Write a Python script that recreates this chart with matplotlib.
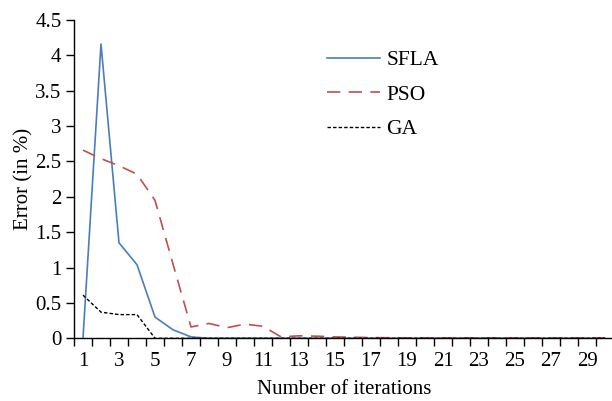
import numpy as np
import matplotlib.pyplot as plt

plt.rcParams['font.family'] = ['Liberation Serif', 'DejaVu Serif']

iterations = np.arange(1, 31)
sfla = [0.0, 4.16, 1.35, 1.04, 0.30, 0.12, 0.02] + [0.0] * 23
pso = [2.66, 2.54, 2.44, 2.32, 1.95, 1.05, 0.16, 0.21, 0.15, 0.20, 0.17, 0.02,
       0.035, 0.03, 0.02, 0.015, 0.01, 0.008, 0.006, 0.005] + [0.004] * 10
ga = [0.61, 0.37, 0.335, 0.335, 0.0] + [0.0] * 25

fig = plt.figure(figsize=(6.12, 4.01), dpi=100)
ax = fig.add_axes([74 / 612, 1 - 338.3 / 401, 540 / 612, 318.3 / 401])

ax.plot(iterations, sfla, color='#4a7ebb', lw=1.2, label='SFLA')
ax.plot(iterations, pso, color='#c0504d', lw=1.2, dashes=(8, 5), label='PSO')
ax.plot(iterations, ga, color='black', lw=1.0, dashes=(2.5, 1.5), label='GA')

ax.set_xlim(0.5, 30.5)
ax.set_ylim(0, 4.5)
ax.set_yticks(np.arange(0, 4.6, 0.5))
ax.set_yticklabels(['0', '0.5', '1', '1.5', '2', '2.5', '3', '3.5', '4', '4.5'])
# tick marks sit between categories, labels on every other category
ax.set_xticks(np.arange(0.5, 31, 1))
ax.set_xticklabels([])
ax.set_xticks(np.arange(1, 30, 2), minor=True)
ax.set_xticklabels([str(i) for i in range(1, 30, 2)], minor=True)
ax.tick_params(axis='x', which='minor', length=0, pad=10, labelsize=15)
ax.tick_params(axis='x', which='major', length=6, width=1, direction='out')
ax.tick_params(axis='y', length=6, width=1, direction='out', labelsize=15, pad=3)

for s in ['top', 'right']:
    ax.spines[s].set_visible(False)
for s in ['left', 'bottom']:
    ax.spines[s].set_linewidth(1)

ax.set_xlabel('Number of iterations', fontsize=15, labelpad=6)
ax.set_ylabel('Error (in %)', fontsize=15, labelpad=1.5)

ax.legend(loc='upper left', bbox_to_anchor=(327 / 612, 1 - 50 / 401),
          bbox_transform=fig.transFigure, frameon=False, fontsize=15.5,
          handlelength=2.45, labelspacing=0.67, handletextpad=0.3,
          borderpad=0, borderaxespad=0)

fig.savefig('out.png', dpi=100)
